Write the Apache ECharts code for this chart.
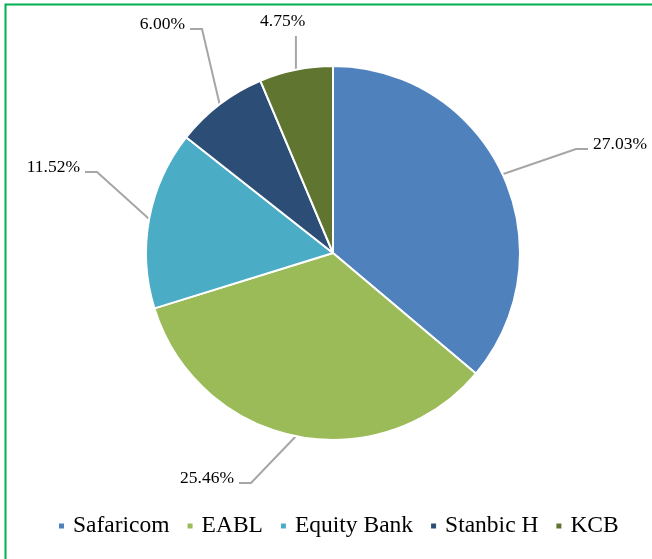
<!DOCTYPE html>
<html>
<head>
<meta charset="utf-8">
<script src="https://cdn.jsdelivr.net/npm/echarts@6/dist/echarts.min.js"></script>
<style>
  html, body { margin: 0; padding: 0; background: #fff; }
  #main { width: 652px; height: 559px; }
</style>
</head>
<body>
<div id="main"></div>
<script>
// company names and their shares (%)
const companies = ['Safaricom', 'EABL', 'Equity Bank', 'Stanbic H', 'KCB'];
const shares = [27.03, 25.46, 11.52, 6.00, 4.75];
const colors = ['#4f81bd', '#9bbb59', '#4bacc6', '#2c4d75', '#5f7530'];

// where each percentage label sits (like the excel layout)
const labelSpots = [
  { x: 593, y: 144, align: 'left' },
  { x: 234, y: 478, align: 'right' },
  { x: 80, y: 167, align: 'right' },
  { x: 185, y: 24, align: 'right' },
  { x: 260, y: 21, align: 'left', vertical: true }
];

let chart = echarts.init(document.getElementById('main'));
let option = {
  animation: false,
  color: colors,
  graphic: [{
    type: 'rect',
    shape: { x: 5.5, y: 4.5, width: 700, height: 600 },
    style: { fill: 'none', stroke: '#00b050', lineWidth: 2 }
  }],
  legend: {
    top: 509,
    left: 52,
    icon: 'rect',
    itemWidth: 7,
    itemHeight: 7,
    itemGap: 16,
    textStyle: {
      fontFamily: 'Liberation Serif',
      fontSize: 23.5,
      color: '#000',
      padding: [0, 0, 0, 3]
    },
    data: companies
  },
  series: [{
    type: 'pie',
    center: [333, 253],
    radius: 187,
    startAngle: 90,
    clockwise: true,
    itemStyle: { borderColor: '#fff', borderWidth: 2 },
    label: {
      formatter: (p) => p.value.toFixed(2) + '%',
      color: '#000',
      fontFamily: 'Liberation Serif',
      fontSize: 17.5
    },
    labelLine: {
      length: 40,
      length2: 12,
      lineStyle: { color: '#a6a6a6', width: 2 }
    },
    labelLayout: function (params) {
      const spot = labelSpots[params.dataIndex];
      const pts = params.labelLinePoints;
      let res = { x: spot.x, y: spot.y, align: spot.align, verticalAlign: 'middle' };
      if (pts && pts.length) {
        const p0 = pts[0];
        const dir = spot.align === 'left' ? -1 : 1;
        let end, elbow;
        if (spot.vertical) {
          end = [p0[0], spot.y + 15];
          elbow = end;
        } else {
          end = [spot.x + dir * 5, spot.y + 5];
          elbow = [end[0] + dir * 12, end[1]];
        }
        res.labelLinePoints = [p0, elbow, end];
      }
      return res;
    },
    data: companies.map((name, i) => ({ name: name, value: shares[i] }))
  }]
};
chart.setOption(option);
</script>
</body>
</html>
